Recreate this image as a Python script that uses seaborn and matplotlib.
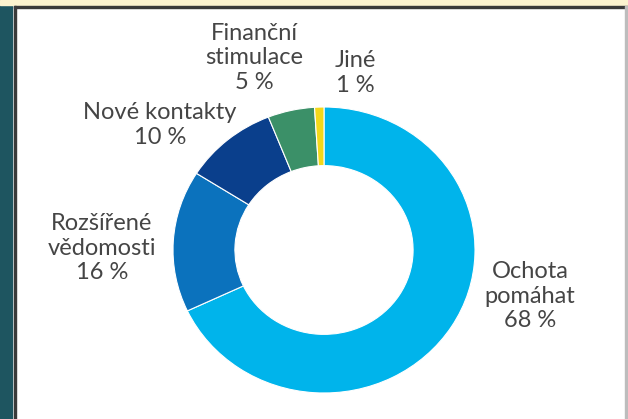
import matplotlib
matplotlib.use("Agg")
import matplotlib.pyplot as plt
from matplotlib.patches import Rectangle
import seaborn as sns

sns.set_style("white")
plt.rcParams['font.family'] = ['Lato', 'DejaVu Sans']

# data
categories = ["Ochota\npomáhat", "Rozšířené\nvědomosti", "Nové kontakty", "Finanční\nstimulace", "Jiné"]
values = [68, 16, 10, 5, 1]
colors = ["#00b4eb", "#0b72bd", "#0a3f8c", "#3b9068", "#f3d81a"]

fig = plt.figure(figsize=(6.28, 4.19), dpi=100)
fig.patch.set_facecolor("white")

# frame around the picture
fig.patches.append(Rectangle((0, 0), 12/628, 1, transform=fig.transFigure, color="#1e5560", zorder=0))
fig.patches.append(Rectangle((0, 1 - 5/419), 1, 5/419, transform=fig.transFigure, color="#fcf3cf", zorder=0))
fig.patches.append(Rectangle((14/628, 0), 2/628, 1 - 6/419, transform=fig.transFigure, color="#3a3a3a", zorder=1))
fig.patches.append(Rectangle((14/628, 1 - 8/419), 1 - 14/628, 2/419, transform=fig.transFigure, color="#3a3a3a", zorder=1))
fig.patches.append(Rectangle((1 - 3/628, 0), 2/628, 1 - 6/419, transform=fig.transFigure, color="#bdbdbd", zorder=1))

# donut (slightly wider than tall, like the source)
ax = fig.add_axes([173/628, 26/419, 302/628, 286/419])
ax.pie(values, colors=colors, startangle=90, counterclock=False,
       wedgeprops=dict(width=0.41, edgecolor="white", linewidth=0.8))
ax.set_xlim(-1, 1)
ax.set_ylim(-1, 1)
ax.set_aspect("auto")
ax.axis("off")

# labels
txt = dict(fontsize=17, color="#454545", linespacing=1.22)
pos = [(530, 296), (102, 248), (160, 125), (254, 58), (355, 73)]
for (x, y), cat, v in zip(pos, categories, values):
    fig.text(x/628, 1 - y/419, f"{cat}\n{v} %", ha="center", va="center", **txt)

fig.savefig("out.png", dpi=100)
